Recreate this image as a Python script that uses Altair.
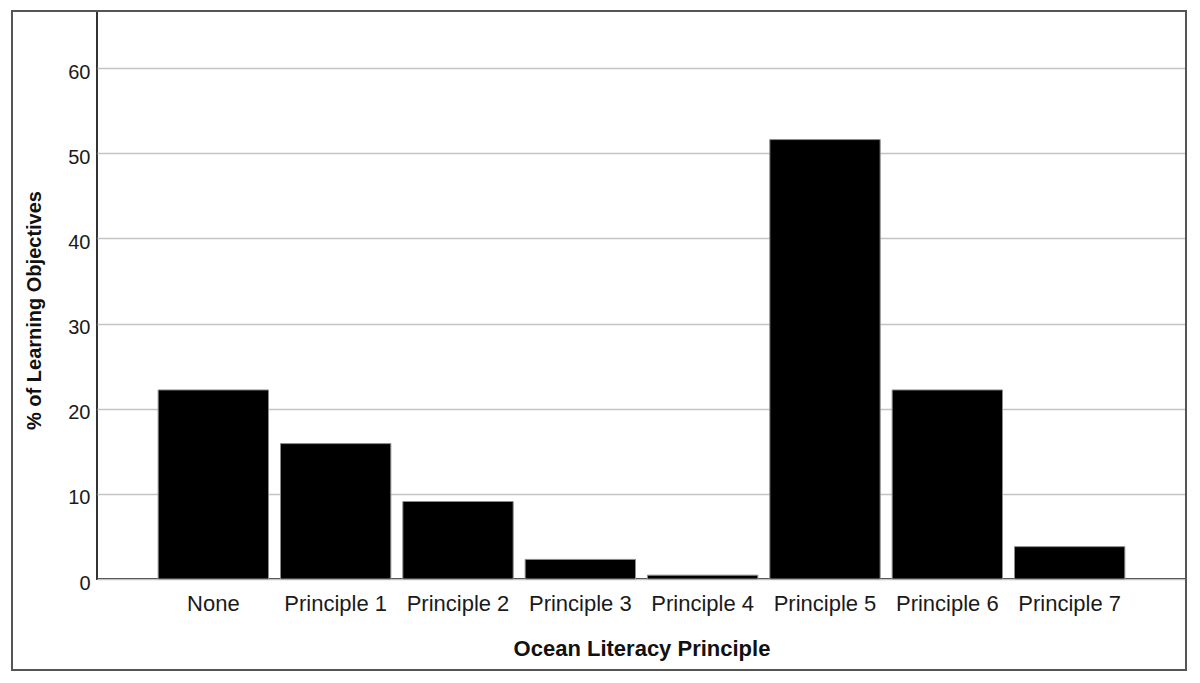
import altair as alt
import pandas as pd

categories = ["None", "Principle 1", "Principle 2", "Principle 3",
              "Principle 4", "Principle 5", "Principle 6", "Principle 7"]
percentages = [22.2, 15.9, 9.1, 2.3, 0.45, 51.6, 22.2, 3.8]
y_ticks = [0, 10, 20, 30, 40, 50, 60]

df = pd.DataFrame({"principle": categories, "pct": percentages})

FONT = "Liberation Sans"
W, H = 1089, 568

frame = alt.Chart(pd.DataFrame({"a": [0]})).mark_rect(
    fillOpacity=0, stroke="#555555", strokeWidth=2
).encode(
    x=alt.value(-85), x2=alt.value(W), y=alt.value(0), y2=alt.value(659)
)

bars = alt.Chart(df).mark_bar(
    color="black", stroke="#8c8c8c", strokeWidth=1
).encode(
    x=alt.X(
        "principle:N", sort=categories,
        scale=alt.Scale(paddingInner=0.098, paddingOuter=0.5),
        axis=alt.Axis(
            title="Ocean Literacy Principle", labelAngle=0, ticks=False, tickSize=0,
            labelPadding=31, labelBaseline="alphabetic", labelFont=FONT,
            labelFontSize=22, labelColor="#1a1a1a", titleFont=FONT,
            titleFontSize=22, titleFontWeight="bold", titleColor="#111111",
            titleBaseline="alphabetic", titleY=76, domain=False, grid=False,
        ),
    ),
    y=alt.Y(
        "pct:Q",
        scale=alt.Scale(domain=[0, 66.7], nice=False, zero=True),
        axis=alt.Axis(
            title="% of Learning Objectives", values=y_ticks, ticks=False,
            tickSize=0, labelPadding=7, labelBaseline="middle", labelOffset=4,
            labelFont=FONT, labelFontSize=20, labelColor="#1a1a1a",
            gridColor="#c4c4c4", gridWidth=1.5, domain=False,
            titleFont=FONT, titleFontSize=20, titleFontWeight="bold",
            titleColor="#111111", titleAngle=-90, titleX=-57, titleY=299,
            titleBaseline="alphabetic", titleAlign="center",
        ),
    ),
)

chart = alt.layer(frame, bars).properties(
    width=W, height=H,
    autosize=alt.AutoSizeParams(type="none"),
    padding={"left": 89, "top": 3, "right": 4, "bottom": 95},
    background="white",
).configure_view(stroke="#333333", strokeWidth=2)

chart.save("out.html", embed_options={"renderer": "svg", "actions": False})
